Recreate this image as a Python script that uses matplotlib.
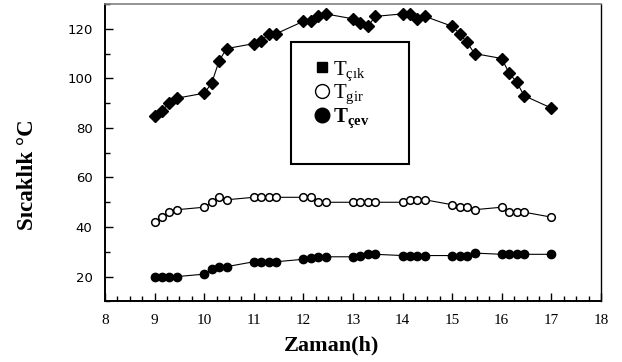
import matplotlib
matplotlib.use("Agg")
import matplotlib.pyplot as plt
from matplotlib.lines import Line2D
from matplotlib.patches import Rectangle
from matplotlib.ticker import MultipleLocator

plt.rcParams["mathtext.fontset"] = "custom"
plt.rcParams["mathtext.rm"] = "Liberation Serif"
plt.rcParams["mathtext.it"] = "Liberation Serif:italic"
plt.rcParams["mathtext.bf"] = "Liberation Serif:bold"

# time of day (h)
hours = [9.0, 9.15, 9.3, 9.45, 10.0, 10.15, 10.3, 10.45,
         11.0, 11.15, 11.3, 11.45, 12.0, 12.15, 12.3, 12.45,
         13.0, 13.15, 13.3, 13.45, 14.0, 14.15, 14.3, 14.45,
         15.0, 15.15, 15.3, 15.45, 16.0, 16.15, 16.3, 16.45, 17.0]
# outlet temperature
t_cik = [85, 87, 90, 92, 94, 98, 107, 112,
         114, 115, 118, 118, 123, 123, 125, 126,
         124, 122.5, 121, 125, 126, 126, 124, 125,
         121, 118, 114.5, 110, 108, 102, 98.5, 93, 88]
# inlet temperature
t_gir = [42, 44, 46, 47, 48, 50, 52, 51,
         52, 52, 52, 52, 52, 52, 50, 50,
         50, 50, 50, 50, 50, 51, 51, 51,
         49, 48, 48, 47, 48, 46, 46, 46, 44]
# ambient temperature
t_cev = [20, 20, 20, 20, 21, 23, 24, 24,
         26, 26, 26, 26, 27, 27.5, 28, 28,
         28, 28.5, 29, 29, 28.5, 28.5, 28.5, 28.5,
         28.5, 28.5, 28.5, 29.5, 29, 29, 29, 29, 29]

fig = plt.figure(figsize=(6.22, 3.62), dpi=100)
ax = fig.add_axes([0.1688, 0.1674, 0.7974, 0.8216])

ax.plot(hours, t_cik, color="black", lw=0.8, marker="D", ms=6,
        mfc="black", mec="black")
ax.plot(hours, t_gir, color="black", lw=0.8, marker="o", ms=5.5,
        mfc="white", mec="black", mew=1.1)
ax.plot(hours, t_cev, color="black", lw=0.8, marker="o", ms=6,
        mfc="black", mec="black")

ax.set_xlim(8, 18)
ax.set_ylim(10, 130)
ax.xaxis.set_major_locator(MultipleLocator(1))
ax.xaxis.set_minor_locator(MultipleLocator(0.25))
ax.yaxis.set_major_locator(MultipleLocator(20))
ax.yaxis.set_minor_locator(MultipleLocator(10))
ax.set_yticks(range(20, 121, 20))
ax.tick_params(axis="both", which="both", direction="in",
               top=False, right=False, color="black")
ax.tick_params(axis="both", which="major", length=6, width=1)
ax.tick_params(axis="both", which="minor", length=3.5, width=1)
ax.tick_params(axis="x", pad=9)
ax.tick_params(axis="y", pad=9)
for lab in ax.get_xticklabels():
    lab.set_family("Liberation Serif")
    lab.set_fontsize(11)
for lab in ax.get_yticklabels():
    lab.set_family("DejaVu Sans")
    lab.set_fontsize(9.5)

for side in ("left", "bottom"):
    ax.spines[side].set_linewidth(1.4)
ax.spines["right"].set_linewidth(1.0)
ax.spines["top"].set_linewidth(1.2)
ax.spines["top"].set_color("#808080")

ax.set_xlabel("Zaman(h)", family="Liberation Serif", fontsize=16,
              fontweight="bold")
ax.xaxis.set_label_coords(0.456, -0.115)
ax.set_ylabel("Sıcaklık °C", family="Liberation Serif", fontsize=16.5,
              fontweight="bold")
ax.yaxis.set_label_coords(-0.135, 0.425)

ax.add_patch(Rectangle((0.376, 0.462), 0.237, 0.411, transform=ax.transAxes,
                       fill=False, ec="black", lw=1.5, zorder=5))
handles = [
    Line2D([], [], ls="none", marker="s", ms=6.5, mfc="black", mec="black"),
    Line2D([], [], ls="none", marker="o", ms=10, mfc="white", mec="black", mew=1),
    Line2D([], [], ls="none", marker="o", ms=10.5, mfc="black", mec="black"),
]
labels = [r"T$_{\mathrm{çık}}$", r"T$_{\mathrm{gir}}$", r"$\mathbf{T_{çev}}$"]
leg = ax.legend(handles, labels, loc="upper left", bbox_to_anchor=(0.399, 0.85),
                frameon=False, borderpad=0, handlelength=0.8, handletextpad=0.15,
                labelspacing=0.02, prop={"family": "Liberation Serif", "size": 15})
leg.get_texts()[2].set_fontweight("bold")

fig.savefig("out.png", dpi=100)
